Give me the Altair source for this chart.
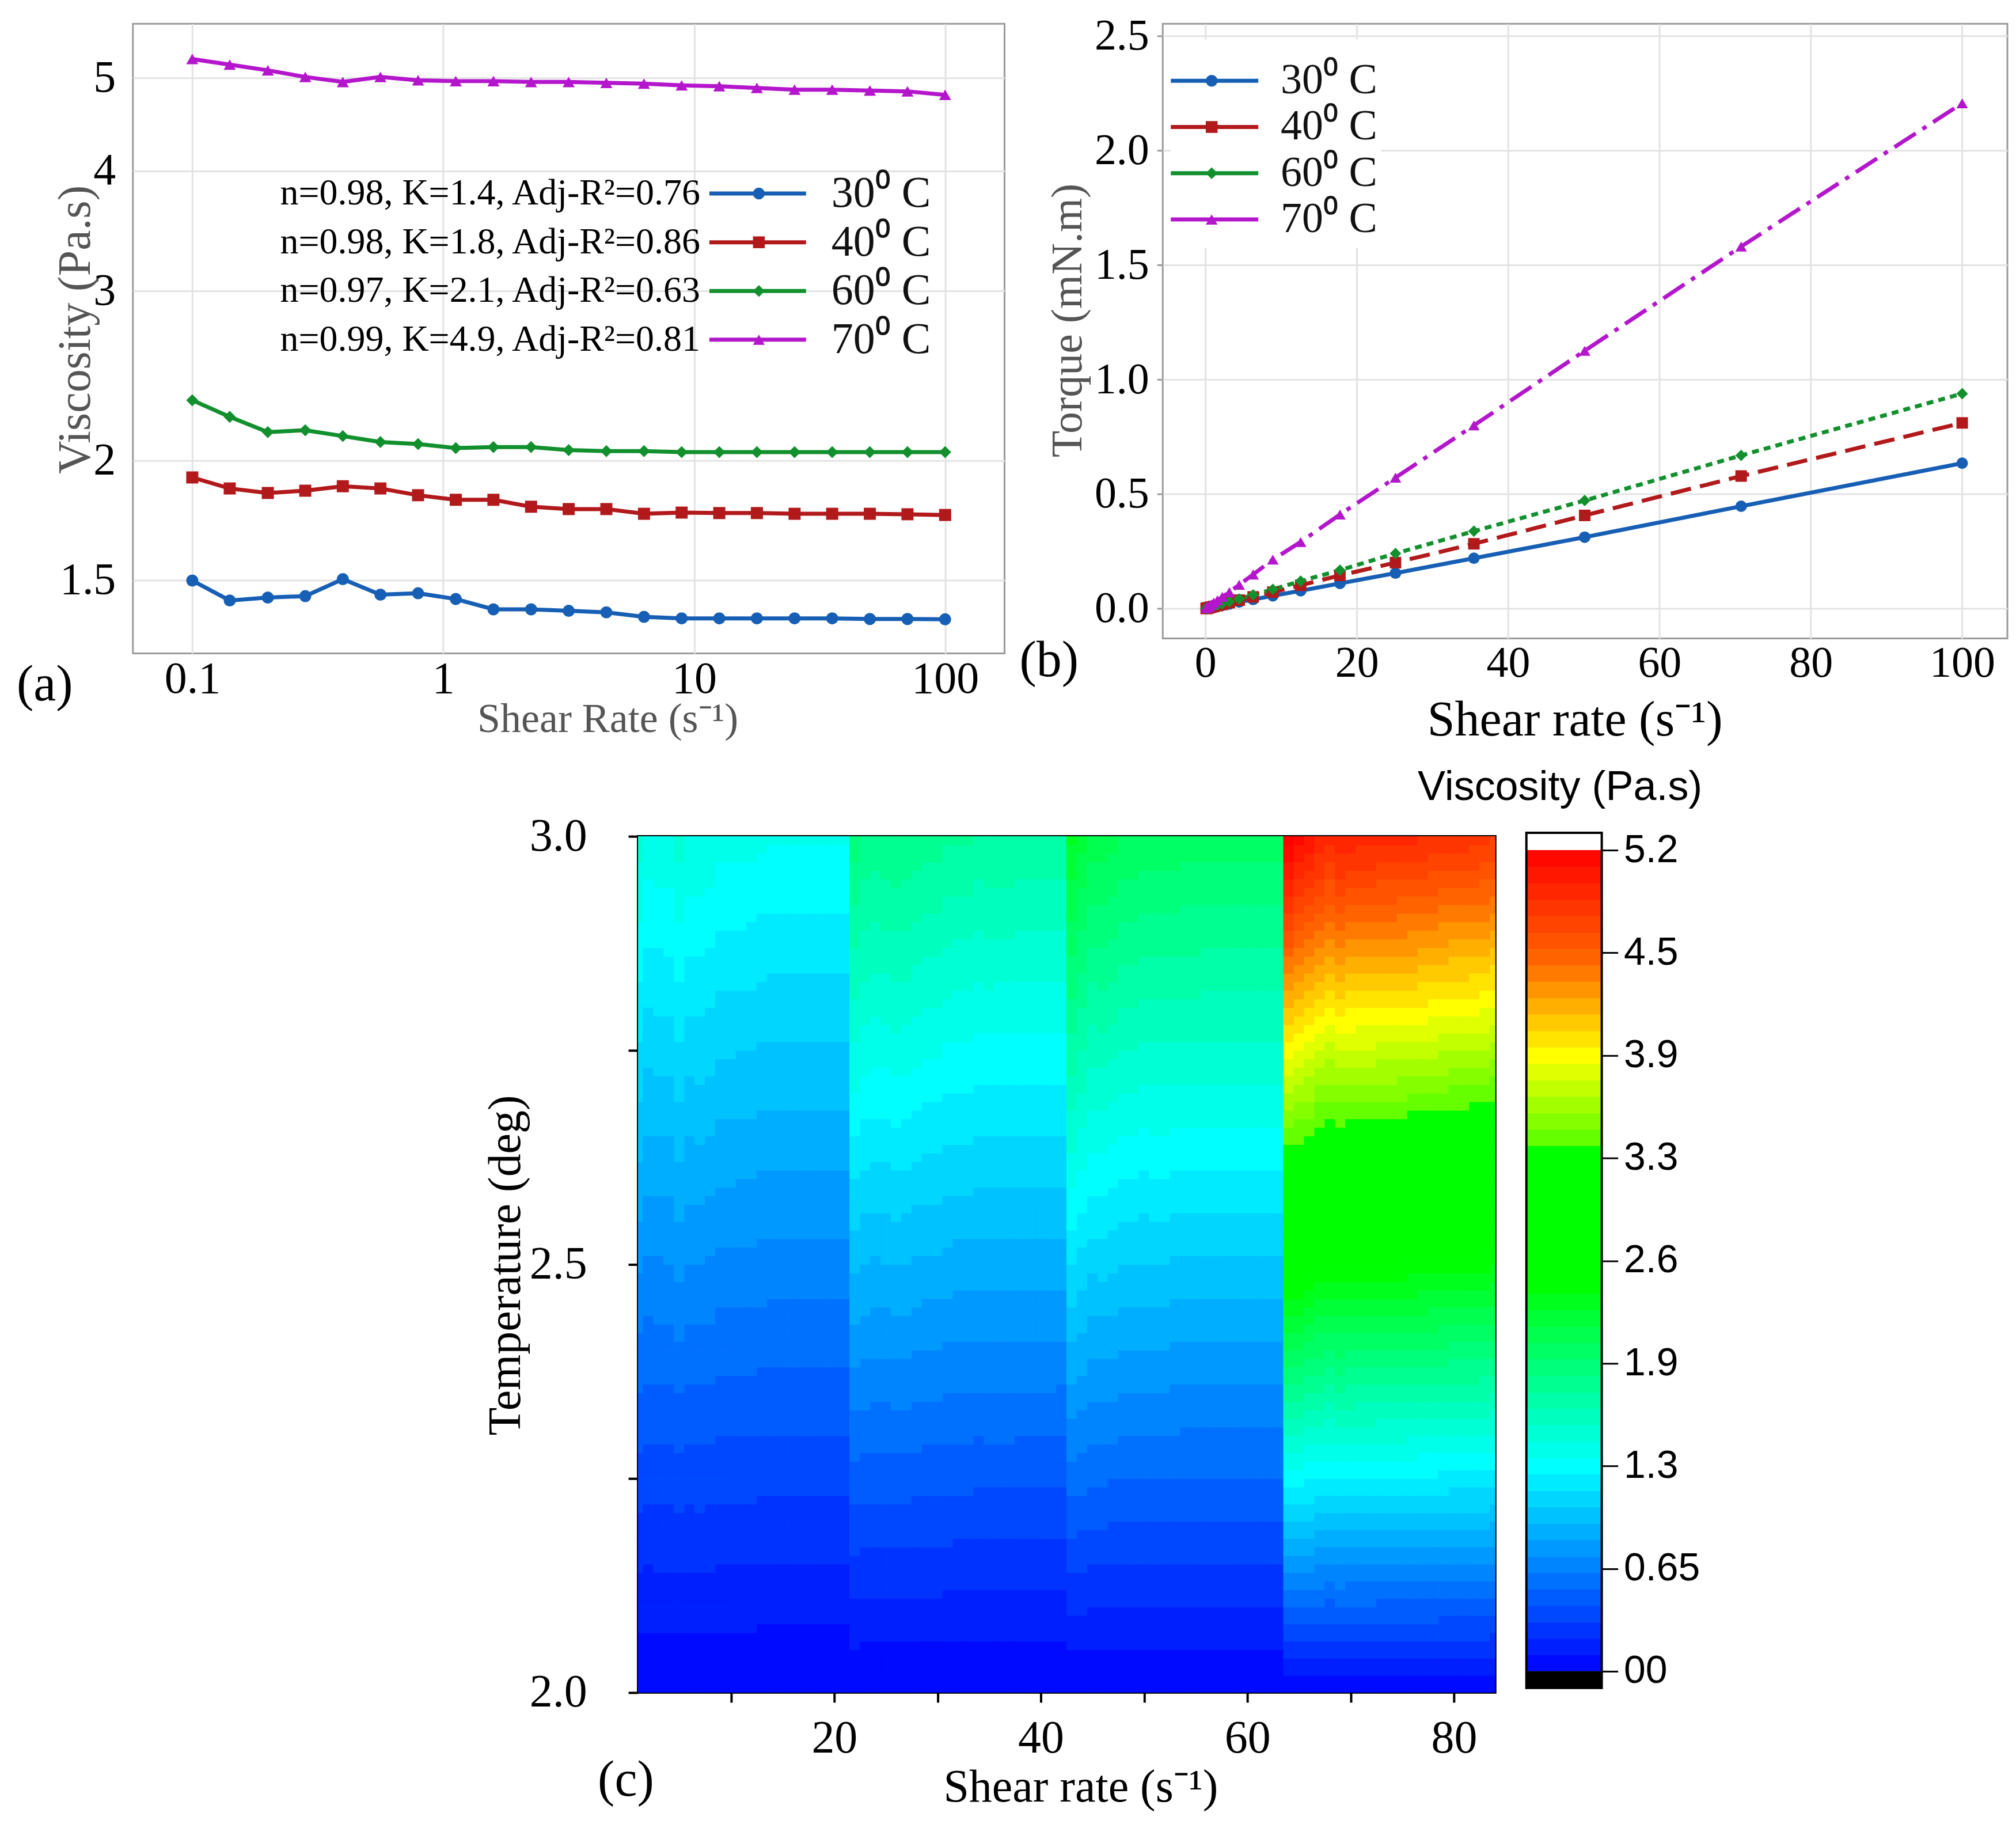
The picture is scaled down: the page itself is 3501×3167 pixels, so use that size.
import altair as alt
import numpy as np
import pandas as pd

SERIF = "Liberation Serif"
SANS = "Liberation Sans"

# ---- measured data -------------------------------------------------------
shear_rate = [0.1, 0.141, 0.2, 0.282, 0.398, 0.562, 0.794, 1.122, 1.585, 2.239,
              3.162, 4.467, 6.31, 8.913, 12.59, 17.78, 25.12, 35.48, 50.12, 70.79, 100.0]

visc_30 = [1.50, 1.43, 1.44, 1.445, 1.505, 1.45, 1.455, 1.435, 1.40, 1.40, 1.395,
           1.39, 1.375, 1.37, 1.37, 1.37, 1.37, 1.37, 1.368, 1.368, 1.367]
visc_40 = [1.92, 1.87, 1.85, 1.86, 1.88, 1.87, 1.84, 1.82, 1.82, 1.79, 1.78,
           1.78, 1.76, 1.765, 1.763, 1.763, 1.76, 1.76, 1.76, 1.758, 1.755]
visc_60 = [2.31, 2.22, 2.14, 2.15, 2.12, 2.09, 2.08, 2.06, 2.065, 2.065, 2.05,
           2.045, 2.045, 2.04, 2.04, 2.04, 2.04, 2.04, 2.04, 2.04, 2.04]
visc_70 = [5.23, 5.16, 5.09, 5.01, 4.95, 5.01, 4.97, 4.96, 4.96, 4.95, 4.95,
           4.94, 4.93, 4.91, 4.90, 4.88, 4.86, 4.86, 4.85, 4.84, 4.80]

torque_30 = [0.0007, 0.0009, 0.0013, 0.0019, 0.0028, 0.0038, 0.0053, 0.0075, 0.010, 0.014, 0.020,
             0.029, 0.040, 0.056, 0.078, 0.110, 0.155, 0.220, 0.312, 0.447, 0.635]
torque_40 = [0.0009, 0.0012, 0.0017, 0.0024, 0.0034, 0.0048, 0.0068, 0.0095, 0.013, 0.018, 0.026,
             0.037, 0.051, 0.072, 0.102, 0.145, 0.201, 0.283, 0.407, 0.579, 0.811]
torque_60 = [0.0011, 0.0015, 0.0020, 0.0028, 0.0039, 0.0055, 0.0077, 0.011, 0.015, 0.021, 0.030,
             0.042, 0.060, 0.084, 0.120, 0.168, 0.241, 0.338, 0.472, 0.669, 0.939]
torque_70 = [0.0024, 0.0034, 0.0047, 0.0066, 0.0091, 0.013, 0.018, 0.026, 0.036, 0.051, 0.072,
             0.104, 0.149, 0.214, 0.291, 0.411, 0.572, 0.800, 1.126, 1.581, 2.207]

series = ["30⁰ C", "40⁰ C", "60⁰ C", "70⁰ C"]
fit_stats = ["n=0.98, K=1.4, Adj-R²=0.76", "n=0.98, K=1.8, Adj-R²=0.86",
             "n=0.97, K=2.1, Adj-R²=0.63", "n=0.99, K=4.9, Adj-R²=0.81"]
colors = ["#165FB4", "#B2191B", "#13902E", "#B416CC"]
shapes = ["circle", "square", "diamond", "triangle-up"]
dashes = [[1, 0], [36, 16], [12, 9], [44, 14, 8, 14]]

# contour panel: the 4 temperatures laid side by side (21 shear points each),
# y levels between 2.0 and 3.0
heat_levels = np.round(np.arange(2.0, 3.0, 0.01), 2)
bar_ticks = [0, 0.65, 1.3, 1.95, 2.6, 3.25, 3.9, 4.55, 5.2]
band_edges = np.linspace(0, 5.2, 51)
band_domain = [0, 0.65, 1.3, 1.55, 1.9, 2.2, 2.45, 3.3, 3.38, 3.9, 4.5, 5.2]
band_colors = ["#0000ff", "#0080ff", "#00ffff", "#00ffcc", "#00ff80", "#00ff40", "#00ff00",
               "#00ff00", "#66ff00", "#ffff00", "#ff6600", "#ff0000"]

curves = pd.DataFrame({
    "shear": shear_rate * 4,
    "visc": visc_30 + visc_40 + visc_60 + visc_70,
    "torque": torque_30 + torque_40 + torque_60 + torque_70,
    "series": np.repeat(series, len(shear_rate)),
})

visc_all = visc_30 + visc_40 + visc_60 + visc_70
heat = pd.DataFrame(
    [(i + 0.5, i + 1.5, lv, lv + 0.01, eta * (lv + 0.005 - 2.0))
     for i, eta in enumerate(visc_all) for lv in heat_levels],
    columns=["x0", "x1", "y0", "y1", "v"],
)
bar = pd.DataFrame({"lo": band_edges[:-1], "hi": band_edges[1:]})
one = pd.DataFrame({"t": [0]})

color_scale = alt.Scale(domain=series, range=colors)
shape_scale = alt.Scale(domain=series, range=shapes)
dash_scale = alt.Scale(domain=series, range=dashes)
band_scale = alt.Scale(domain=band_domain, range=band_colors, interpolate="rgb")
BAND = "(floor(datum.v / 0.104) + 0.5) * 0.104"

GRID = dict(grid=True, gridColor="#e3e3e3", gridWidth=3)
LAB = dict(labelFont=SERIF, labelColor="black", titleFont=SERIF, titleFontWeight="normal")


def tag(text, x, y, size=88):
    return alt.Chart(one).mark_text(
        text=text, font=SERIF, fontSize=size, align="left", baseline="middle", color="black"
    ).encode(x=alt.value(x), y=alt.value(y))


def legend(rows, line_x, mark_x, label_x, label_size, stats_x=None):
    leg = pd.DataFrame({"series": series, "row": [0, 1, 2, 3], "stats": fit_stats})
    base = alt.Chart(leg).encode(
        y=alt.Y("row:Q", scale=alt.Scale(domain=[0, 3], range=rows, nice=False, zero=False), axis=None),
    )
    col = alt.Color("series:N", scale=color_scale, legend=None)
    parts = [
        base.mark_rule(strokeWidth=7).encode(x=alt.value(line_x[0]), x2=alt.value(line_x[1]), color=col),
        base.mark_point(filled=True, opacity=1, size=420).encode(
            x=alt.value(mark_x), color=col, shape=alt.Shape("series:N", scale=shape_scale, legend=None)),
        base.mark_text(align="left", baseline="middle", font=SERIF, fontSize=label_size, color="#111111").encode(
            x=alt.value(label_x), text="series:N"),
    ]
    if stats_x is not None:
        parts.append(base.mark_text(align="right", baseline="middle", font=SERIF, fontSize=64, color="black").encode(
            x=alt.value(stats_x), text="stats:N"))
    return alt.layer(*parts)


# ---- (a) viscosity vs shear rate, log-log --------------------------------
base_a = alt.Chart(curves).encode(
    x=alt.X("shear:Q", scale=alt.Scale(type="log", domain=[0.058, 172.5], nice=False),
            axis=alt.Axis(values=[0.1, 1, 10, 100], format="~g", ticks=False, domain=False,
                          labelFontSize=78, labelPadding=6, title="Shear Rate (s⁻¹)",
                          titleFontSize=72, titleColor="#555555", titleX=825, titleY=114,
                          titleBaseline="middle", **GRID, **LAB)),
    y=alt.Y("visc:Q", scale=alt.Scale(type="log", domain=[1.26, 5.69], nice=False),
            axis=alt.Axis(values=[1.5, 2, 3, 4, 5], format="~g", ticks=False, domain=False,
                          labelFontSize=78, labelPadding=30, title="Viscosity (Pa.s)",
                          titleFontSize=80, titleColor="#555555", titleX=-99, titleY=531,
                          titleBaseline="middle", **GRID, **LAB)),
    color=alt.Color("series:N", scale=color_scale, legend=None),
)
data_a = alt.layer(
    base_a.mark_line(strokeWidth=7),
    base_a.mark_point(filled=True, opacity=1, size=440).encode(
        shape=alt.Shape("series:N", scale=shape_scale, legend=None)),
    tag("(a)", -202, 1150),
)
chart_a = alt.layer(
    data_a, legend([295, 549], [1002, 1170], 1088, 1214, 76, stats_x=986)
).resolve_scale(y="independent").properties(
    width=1515, height=1094, view=alt.ViewBackground(stroke="#9a9a9a", strokeWidth=3))

# ---- (b) torque vs shear rate --------------------------------------------
base_b = alt.Chart(curves).encode(
    x=alt.X("shear:Q", scale=alt.Scale(domain=[-5.63, 105.97], nice=False, zero=False),
            axis=alt.Axis(values=[0, 20, 40, 60, 80, 100], ticks=False, domain=False,
                          labelFontSize=76, labelPadding=6, title="Shear rate (s⁻¹)",
                          titleFontSize=86, titleColor="black", titleX=716, titleY=142,
                          titleBaseline="middle", **GRID, **LAB)),
    y=alt.Y("torque:Q", scale=alt.Scale(domain=[-0.13, 2.554], nice=False, zero=False),
            axis=alt.Axis(values=[0, 0.5, 1, 1.5, 2, 2.5], format=".1f", ticks=True, tickSize=10,
                          tickColor="#9a9a9a", tickWidth=3, domain=False,
                          labelFontSize=76, labelPadding=14, title="Torque (mN.m)",
                          titleFontSize=76, titleColor="#555555", titleX=-165, titleY=515,
                          titleBaseline="middle", **GRID, **LAB)),
    color=alt.Color("series:N", scale=color_scale, legend=None),
)
data_b = alt.layer(
    base_b.mark_line(strokeWidth=7).encode(
        strokeDash=alt.StrokeDash("series:N", scale=dash_scale, legend=None)),
    base_b.mark_point(filled=True, opacity=1, size=400).encode(
        shape=alt.Shape("series:N", scale=shape_scale, legend=None)),
)
legend_box = alt.Chart(one).mark_rect(color="white").encode(
    x=alt.value(14), x2=alt.value(379), y=alt.value(27), y2=alt.value(390))
chart_b = alt.layer(
    legend_box, data_b, tag("(b)", -249, 1108),
    legend([99, 340], [14, 166], 85, 205, 74),
).resolve_scale(y="independent").properties(
    width=1468, height=1068, view=alt.ViewBackground(stroke="#9a9a9a", strokeWidth=3))

# ---- (c) contour map with colour bar -------------------------------------
C_AX = dict(ticks=True, tickSize=17, tickWidth=4, tickColor="black", domain=False, grid=False,
            labelFontSize=80, titleFontSize=80, titleColor="black", titleBaseline="middle", **LAB)
heat_layer = alt.Chart(heat).mark_rect(clip=True, strokeWidth=1).transform_calculate(
    band=BAND
).encode(
    x=alt.X("x0:Q", scale=alt.Scale(domain=[1, 84], nice=False, zero=False),
            axis=alt.Axis(values=[10, 20, 30, 40, 50, 60, 70, 80],
                          labelExpr="datum.value % 20 == 0 ? datum.label : ''",
                          labelPadding=24, title="Shear rate (s⁻¹)", titleX=769, titleY=165, **C_AX)),
    x2="x1:Q",
    y=alt.Y("y0:Q", scale=alt.Scale(domain=[2.0, 3.0], nice=False, zero=False),
            axis=alt.Axis(values=[2.0, 2.25, 2.5, 2.75, 3.0],
                          labelExpr="(datum.value == 2 || datum.value == 2.5 || datum.value == 3) ? format(datum.value, '.1f') : ''",
                          labelPadding=72, title="Temperature (deg)", titleX=-230, titleY=745, **C_AX)),
    y2="y1:Q",
    color=alt.Color("band:Q", scale=band_scale, legend=None),
    stroke=alt.Stroke("band:Q", scale=band_scale, legend=None),
)

cb_y = alt.Y("lo:Q", scale=alt.Scale(domain=[0, 5.2], range=[1451, 24], nice=False, zero=False),
             axis=alt.Axis(orient="right", offset=185, values=bar_ticks,
                           labelExpr="datum.value == 0 ? '00' : datum.value == 0.65 ? '0.65' : format(datum.value, '.1f')",
                           ticks=True, tickSize=28, tickWidth=3, tickColor="black", domain=False, grid=False,
                           labelFont=SANS, labelFontSize=68, labelColor="black", labelPadding=10,
                           title="Viscosity  (Pa.s)", titleFont=SANS, titleFontSize=72,
                           titleFontWeight="normal", titleColor="black", titleAngle=0,
                           titleAlign="center", titleBaseline="middle", titleX=-73, titleY=-86))
cb_bands = alt.Chart(bar).mark_rect(strokeWidth=1).transform_calculate(
    v="(datum.lo + datum.hi) / 2", band=BAND
).encode(
    x=alt.value(1544), x2=alt.value(1675), y=cb_y, y2="hi:Q",
    color=alt.Color("band:Q", scale=band_scale, legend=None),
    stroke=alt.Stroke("band:Q", scale=band_scale, legend=None),
)
caps = pd.DataFrame({"lo": [5.2, -0.106], "hi": [5.309, 0.0], "fill": ["white", "black"]})
cb_caps = alt.Chart(caps).mark_rect().encode(
    x=alt.value(1544), x2=alt.value(1675), y=cb_y, y2="hi:Q",
    fill=alt.Fill("fill:N", scale=None),
)
cb_frame = alt.Chart(one).mark_rect(fillOpacity=0, stroke="black", strokeWidth=4).encode(
    x=alt.value(1544), x2=alt.value(1675), y=alt.value(-6), y2=alt.value(1480))
colorbar = alt.layer(cb_bands, cb_caps, cb_frame)

chart_c = alt.layer(
    alt.layer(heat_layer, tag("(c)", -70, 1641)), colorbar
).resolve_scale(y="independent", color="independent", stroke="independent").properties(
    width=1490, height=1488, view=alt.ViewBackground(stroke="black", strokeWidth=4))

spacer = alt.Chart(one).mark_point(opacity=0).encode(x=alt.value(0), y=alt.value(0)).properties(
    width=606, height=20, view=alt.ViewBackground(strokeWidth=0))

top = alt.hconcat(chart_a, chart_b, spacing=22)
bottom = alt.hconcat(spacer, chart_c, spacing=0)
chart = alt.vconcat(top, bottom, spacing=33).properties(
    padding={"left": 19, "top": 13, "right": 5, "bottom": 5}
).configure_view(strokeWidth=0)

chart.save("out.html", embed_options={"renderer": "svg", "actions": False})
